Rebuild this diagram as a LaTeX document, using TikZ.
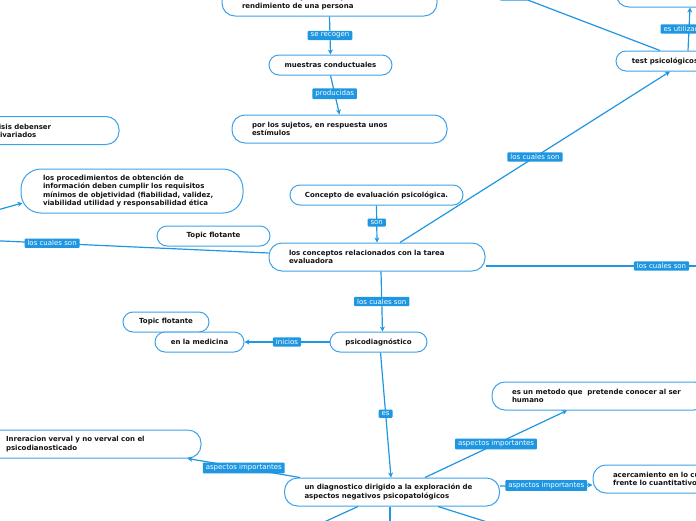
\documentclass[tikz,border=0pt]{standalone}
\usepackage{fontspec}
\usepackage{tikz}
\usetikzlibrary{calc,arrows.meta,quotes}
\newfontfamily\mmfont{DejaVu Sans}
\definecolor{mmblue}{RGB}{30,150,225}
\definecolor{mmedge}{RGB}{62,162,232}
\definecolor{mmtext}{RGB}{20,20,20}

\begin{document}
\begin{tikzpicture}[
	x=1pt,y=-1pt,
	topic/.style={draw=mmedge,line width=1pt,fill=white,rounded corners=10pt,minimum height=20pt,inner ysep=0pt,text=mmtext,font=\mmfont\bfseries\fontsize{7}{8.5}\selectfont,align=center},
	wide/.style={topic,minimum height=28pt,rounded corners=13pt,inner xsep=20pt,align=left},
	lbl/.style={fill=mmblue,text=white,font=\mmfont\fontsize{7}{8}\selectfont,inner xsep=3pt,inner ysep=2pt,rounded corners=1pt},
	link/.style={draw=mmblue,line width=1.2pt},
	directed/.style={link,arrows={-Stealth[length=5pt,width=5pt]}},
	every edge quotes/.style={lbl}]
	\useasboundingbox (0,0) rectangle (696,520);
	\clip (0,0) rectangle (696,520);
	\node[wide,text width=175pt] (info) at (329.5,2) {información objetiva, respecto al\\rendimiento de una persona};
	\node[topic,minimum width=123pt] (muest) at (330.5,65) {muestras conductuales};
	\node[wide,text width=175pt] (sujet) at (339.5,129) {por los sujetos, en respuesta unos\\estímulos};
	\node[wide,text width=117pt] (anal) at (40.5,130.5) {análisis debenser\\multivariados};
	\node[wide,text width=178pt,inner xsep=22pt,minimum height=44pt,rounded corners=20pt] (proc) at (132,191) {los procedimientos de obtención de\\información deben cumplir los requisitos\\mínimos de objetividad (fiabilidad, validez,\\viabilidad utilidad y responsabilidad ética};
	\node[topic,minimum width=113pt] (flot1) at (213.5,236) {Topic flotante};
	\node[topic,minimum width=173pt] (conc) at (376.5,195) {Concepto de evaluación psicológica.};
	\node[wide,text width=176pt] (concp) at (377,257) {los conceptos relacionados con la tarea\\evaluadora};
	\node[topic,minimum width=98pt] (test) at (665,61) {test psicológicos};
	\node[wide,text width=175pt] (util) at (723.5,-7) {};
	\node[topic,minimum width=97pt] (psico) at (378.5,342) {psicodiagnóstico};
	\node[topic,minimum width=86pt] (flot2) at (166,322) {Topic flotante};
	\node[topic,minimum width=89pt] (medic) at (199.5,342) {en la medicina};
	\node[wide,text width=175pt] (diag) at (392,492) {un diagnostico dirigido a la exploración de\\aspectos negativos psicopatológicos};
	\node[wide,text width=175pt] (inter) at (93.5,444) {Inreracion verval y no verval con el\\psicodianosticado};
	\node[wide,text width=175pt] (metod) at (599.5,396) {es un metodo que\ \ pretende conocer al ser\\humano};
	\node[wide,text width=175pt] (acerc) at (700.5,479) {acercamiento en lo cualitativo\\frente lo cuantitativo};
	\coordinate (tl) at (394,-51);
	\coordinate (lfa) at (-20,240);
	\coordinate (lfb) at (-30,217.6);
	\coordinate (rgt) at (730,266);
	\coordinate (d1) at (300,533);
	\coordinate (d2) at (390,540);
	\coordinate (d3) at (522,533);
	\draw[directed] (info.south) to["se recogen"] (muest.north);
	\draw[directed] (muest.south) to["producidas" pos=.47] (sujet.north);
	\draw[directed] (conc.south) to["son" pos=.46] (concp.north);
	\draw[directed] ([xshift=23pt]concp.north) to["los cuales son"] ([xshift=5pt]test.south);
	\draw[directed] ([yshift=4pt]concp.west) to["los cuales son" pos=.75] (lfa);
	\draw[directed] ([yshift=-9pt]concp.east) to["los cuales son" pos=.72] (rgt);
	\draw[directed] ([xshift=4pt]concp.south) to["los cuales son"] ([xshift=4pt]psico.north);
	\draw[directed] (lfb) to ([xshift=2pt,yshift=-12pt]proc.west);
	\draw[directed] ([xshift=23pt]test.north) to["es utilizado en"] ([xshift=-33.5pt]util.south);
	\draw[link] ([xshift=-5pt]test.north) to node[lbl,minimum width=28pt,minimum height=12pt,pos=.55] (tlb) {} (tl);
	\draw[directed] (psico.west) to["inicios"] (medic.east);
	\draw[directed] ([xshift=2pt]psico.south) to["es" pos=.49] ([xshift=-1pt]diag.north);
	\draw[directed] ([xshift=-92pt]diag.north) to["aspectos importantes"] ([xshift=-14pt]inter.south east);
	\draw[directed] ([xshift=33pt]diag.north) to["aspectos importantes"] ([xshift=-32.5pt]metod.south);
	\draw[directed] ([yshift=6pt]diag.east) to["aspectos importantes"] ([yshift=-6pt]acerc.west);
	\draw[link] ([xshift=-34pt]diag.south) to (d1);
	\draw[link] ([xshift=-2pt]diag.south) to (d2);
	\draw[link] ([xshift=46pt]diag.south) to (d3);
\end{tikzpicture}
\end{document}
